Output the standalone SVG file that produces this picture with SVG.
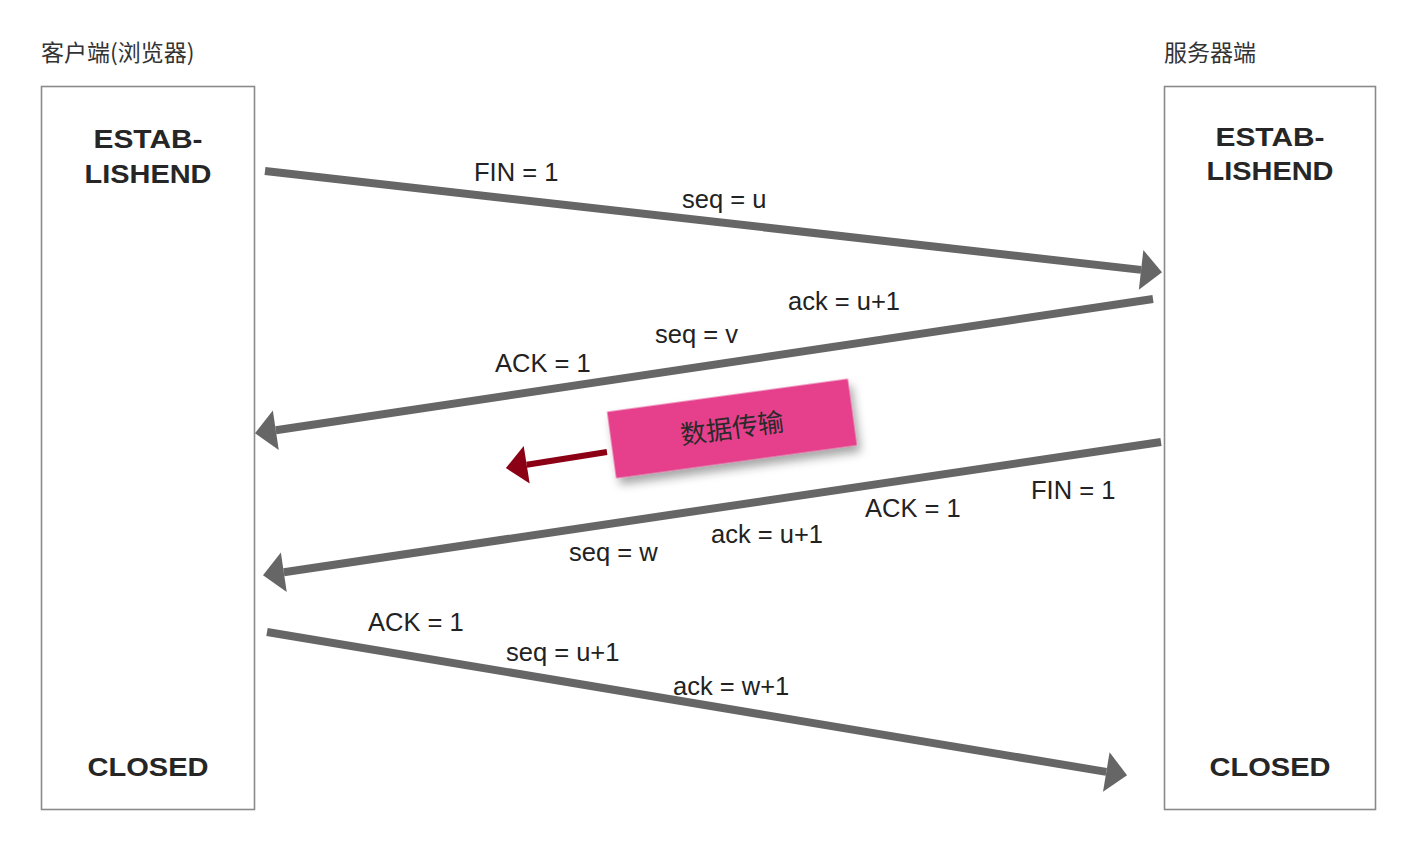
<svg xmlns="http://www.w3.org/2000/svg" width="1404" height="848" viewBox="0 0 1404 848">
<style>
.box{fill:#fff;stroke:#8a8a8a;stroke-width:1.6}
.title{font-family:"Noto Sans CJK SC","Liberation Sans",sans-serif;font-size:23px;fill:#333}
.state{font-family:"Liberation Sans",Arial,sans-serif;font-weight:bold;font-size:26px;fill:#262626;text-anchor:middle}
.lbl{font-family:"Liberation Sans",Arial,sans-serif;font-size:25.5px;fill:#222}
.msg{fill:none;stroke:#666;stroke-width:8}
.data{fill:none;stroke:#8c0016;stroke-width:6}
</style>
<defs>
<marker id="ah" markerUnits="userSpaceOnUse" markerWidth="22" markerHeight="40" viewBox="0 0 20 38" refX="0" refY="19" orient="auto">
<path d="M0,0 L20,19 L0,38 Z" fill="#666"/>
</marker>
<marker id="ahr" markerUnits="userSpaceOnUse" markerWidth="22" markerHeight="38" viewBox="0 0 20 36" refX="0" refY="18" orient="auto">
<path d="M0,0 L20,18 L0,36 Z" fill="#8c0016"/>
</marker>
<filter id="sh" x="-20%" y="-40%" width="140%" height="190%">
<feDropShadow dx="3" dy="7" stdDeviation="5" flood-color="#000" flood-opacity="0.35"/>
</filter>
</defs>

<g id="client">
<text class="title" x="41" y="61">客户端(浏览器)</text>
<rect class="box" x="41.5" y="86.5" width="213" height="723"/>
<text class="state" x="148" y="148" textLength="109" lengthAdjust="spacingAndGlyphs">ESTAB-</text>
<text class="state" x="148" y="183" textLength="127" lengthAdjust="spacingAndGlyphs">LISHEND</text>
<text class="state" x="148" y="776" textLength="121" lengthAdjust="spacingAndGlyphs">CLOSED</text>
</g>

<g id="server">
<text class="title" x="1164" y="61">服务器端</text>
<rect class="box" x="1164.5" y="86.5" width="211" height="723"/>
<text class="state" x="1270" y="146" textLength="109" lengthAdjust="spacingAndGlyphs">ESTAB-</text>
<text class="state" x="1270" y="180" textLength="127" lengthAdjust="spacingAndGlyphs">LISHEND</text>
<text class="state" x="1270" y="776" textLength="121" lengthAdjust="spacingAndGlyphs">CLOSED</text>
</g>

<g id="data-transfer">
<g transform="translate(732 428.5) rotate(-7.8)">
<rect x="-121.5" y="-33.5" width="243" height="67" fill="#e6418d" filter="url(#sh)"/>
<text x="0" y="9" text-anchor="middle" font-family="Noto Sans CJK SC,sans-serif" font-size="26" fill="#2a2a2a">数据传输</text>
</g>
</g>

<g id="connectors">
<path class="msg" d="M265,171 L1141.1,269.9" marker-end="url(#ah)"/>
<path class="msg" d="M1153,299 L275.8,430.2" marker-end="url(#ah)"/>
<path class="msg" d="M1161,442 L283.8,572.2" marker-end="url(#ah)"/>
<path class="msg" d="M267,632 L1106.3,771.9" marker-end="url(#ah)"/>
<path class="data" d="M607,452 L526.7,464.8" marker-end="url(#ahr)"/>
</g>

<g id="labels">
<text class="lbl" x="474" y="181">FIN = 1</text>
<text class="lbl" x="682" y="208">seq = u</text>
<text class="lbl" x="788" y="310">ack = u+1</text>
<text class="lbl" x="655" y="343">seq = v</text>
<text class="lbl" x="495" y="372">ACK = 1</text>
<text class="lbl" x="1031" y="499">FIN = 1</text>
<text class="lbl" x="865" y="517">ACK = 1</text>
<text class="lbl" x="711" y="543">ack = u+1</text>
<text class="lbl" x="569" y="561">seq = w</text>
<text class="lbl" x="368" y="631">ACK = 1</text>
<text class="lbl" x="506" y="661">seq = u+1</text>
<text class="lbl" x="673" y="695">ack = w+1</text>
</g>
</svg>
